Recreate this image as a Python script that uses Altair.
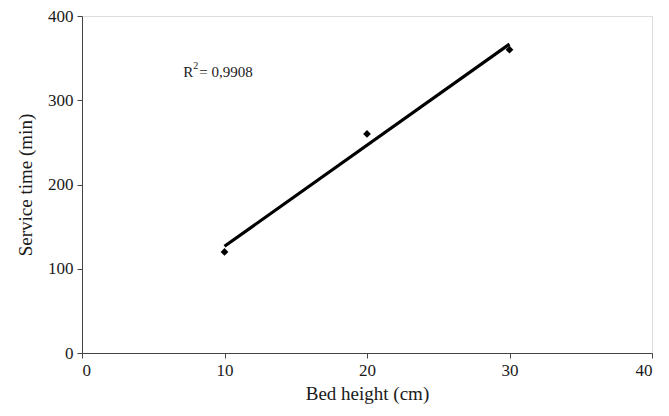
import altair as alt
import pandas as pd

bed_height = [10, 20, 30]
service_time = [120, 260, 360]
r2_x = [7.1]
r2_y = [333]

df = pd.DataFrame({"x": bed_height, "y": service_time})
ann = pd.DataFrame({"x": r2_x, "y": r2_y})

FONT = "Liberation Serif"
INK = "#1a1a1a"

xs = alt.Scale(domain=[0, 40], nice=False)
ys = alt.Scale(domain=[0, 400], nice=False)

xax = alt.Axis(values=[0, 10, 20, 30, 40], title="Bed height (cm)", grid=False,
               labelFontSize=17, titleFontSize=19, labelFont=FONT, titleFont=FONT,
               labelColor=INK, titleColor=INK, domainColor="#444", tickColor="#444",
               tickSize=5, labelPadding=4, titlePadding=6, titleFontWeight="normal")
yax = alt.Axis(values=[0, 100, 200, 300, 400], title="Service time (min)", grid=False,
               labelFontSize=17, titleFontSize=19, labelFont=FONT, titleFont=FONT,
               labelColor=INK, titleColor=INK, domainColor="#444", tickColor="#444",
               tickSize=5, labelPadding=4, titlePadding=12, titleFontWeight="normal")

points = alt.Chart(df).mark_point(shape="diamond", filled=True, color="black", size=60, opacity=1).encode(
    x=alt.X("x:Q", scale=xs, axis=xax),
    y=alt.Y("y:Q", scale=ys, axis=yax),
)

line = alt.Chart(df).transform_regression("x", "y", method="linear").mark_line(
    color="black", strokeWidth=3.2
).encode(x=alt.X("x:Q", scale=xs), y=alt.Y("y:Q", scale=ys))

base_txt = alt.Chart(ann).encode(x=alt.X("x:Q", scale=xs), y=alt.Y("y:Q", scale=ys))
t_r = base_txt.mark_text(align="left", baseline="middle", font=FONT, fontSize=15, color=INK, text="R")
t_2 = base_txt.mark_text(align="left", baseline="middle", font=FONT, fontSize=10, color=INK, text="2", dx=10, dy=-6)
t_v = base_txt.mark_text(align="left", baseline="middle", font=FONT, fontSize=15, color=INK, text="= 0,9908", dx=16)

chart = alt.layer(line, points, t_r, t_2, t_v).properties(
    width=570, height=337,
    autosize=alt.AutoSizeParams(type="none"),
    padding={"left": 74, "top": 8, "right": 9, "bottom": 55},
).configure_view(stroke="#444", strokeWidth=1).configure(background="white")

chart.save("out.html", embed_options={"renderer": "svg", "actions": False})
